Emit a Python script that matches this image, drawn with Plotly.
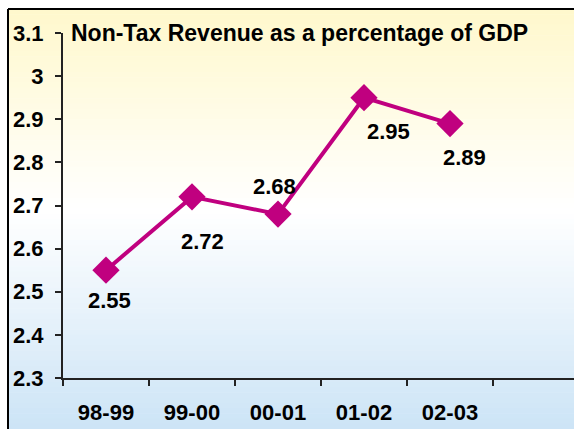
import plotly.graph_objects as go

# ---- data ----
categories = ["98-99", "99-00", "00-01", "01-02", "02-03"]
values = [2.55, 2.72, 2.68, 2.95, 2.89]
labels = ["2.55", "2.72", "2.68", "2.95", "2.89"]
y_ticks = [2.3, 2.4, 2.5, 2.6, 2.7, 2.8, 2.9, 3.0, 3.1]
y_ticktext = ["2.3", "2.4", "2.5", "2.6", "2.7", "2.8", "2.9", "3", "3.1"]
title_text = "Non-Tax Revenue as a percentage of GDP"

# ---- layout helpers ----
W, H = 574, 429
def xp(px):
    return px / W
def yp(py):
    return 1 - py / H

label_offsets = [(3, -30), (10, -45), (-4, 28), (24, -34), (14, -34)]

MAG = "#C0007F"
FONT = "Liberation Sans, Arial, sans-serif"

fig = go.Figure()
fig.add_trace(go.Scatter(
    x=categories, y=values, mode="lines+markers",
    line=dict(color=MAG, width=4),
    marker=dict(symbol="diamond", size=21, color=MAG),
    hoverinfo="skip", showlegend=False, cliponaxis=False,
))

# gradient background bands
shapes = []
top, mid, bot = 9, 210, 429
c_top, c_mid, c_bot = (255, 248, 204), (255, 255, 255), (204, 228, 246)
n = 80
for i in range(n):
    y0 = top + (bot - top) * i / n
    y1 = top + (bot - top) * (i + 1) / n
    yc = (y0 + y1) / 2
    if yc <= mid:
        t = (yc - top) / (mid - top)
        a, b = c_top, c_mid
    else:
        t = (yc - mid) / (bot - mid)
        a, b = c_mid, c_bot
    col = tuple(round(a[k] + (b[k] - a[k]) * t) for k in range(3))
    shapes.append(dict(type="rect", xref="paper", yref="paper",
                       x0=xp(8), x1=1.0, y0=yp(y1) - 0.001, y1=yp(y0),
                       fillcolor="rgb(%d,%d,%d)" % col, line=dict(width=0),
                       layer="below"))
# frame border
shapes.append(dict(type="line", xref="paper", yref="paper",
                   x0=xp(8), x1=1.0, y0=yp(9), y1=yp(9),
                   line=dict(color="black", width=2)))
shapes.append(dict(type="line", xref="paper", yref="paper",
                   x0=xp(8), x1=xp(8), y0=yp(9), y1=0,
                   line=dict(color="black", width=2)))

annotations = [dict(
    text="<b>%s</b>" % title_text, xref="paper", yref="paper",
    x=xp(69), y=yp(33), xanchor="left", yanchor="middle",
    showarrow=False, font=dict(family=FONT, size=23, color="black"))]
for c, v, lab, (dx, dy) in zip(categories, values, labels, label_offsets):
    annotations.append(dict(
        text="<b>%s</b>" % lab, x=c, y=v, xref="x", yref="y",
        xshift=dx, yshift=dy, showarrow=False,
        font=dict(family=FONT, size=22, color="black")))

fig.update_layout(
    width=W, height=H,
    margin=dict(l=0, r=0, t=0, b=0),
    paper_bgcolor="white", plot_bgcolor="rgba(0,0,0,0)",
    shapes=shapes, annotations=annotations,
    xaxis=dict(
        domain=[xp(63), 1.0], type="category",
        range=[-0.5, (W - 106) / 86],
        showgrid=False, zeroline=False, showline=True,
        linecolor="#222", linewidth=2,
        ticks="outside", tickson="boundaries", ticklen=6, tickwidth=2, tickcolor="#222",
        tickfont=dict(family=FONT, size=22, color="black"),
        ticklabelstandoff=14, automargin=False,
        tickprefix="<b>", ticksuffix="</b>",
    ),
    yaxis=dict(
        domain=[yp(378), yp(33)],
        range=[2.3, 3.1],
        tickvals=y_ticks, ticktext=["<b>%s</b>" % t for t in y_ticktext],
        showgrid=False, zeroline=False, showline=True,
        linecolor="#222", linewidth=2,
        ticks="outside", ticklen=6, tickwidth=2, tickcolor="#222",
        tickfont=dict(family=FONT, size=22, color="black"),
        ticklabelstandoff=7, automargin=False,
    ),
)

fig.write_html("out.html", config={"displayModeBar": False},
               post_script="document.body.style.margin='0';document.body.style.overflow='hidden';")
